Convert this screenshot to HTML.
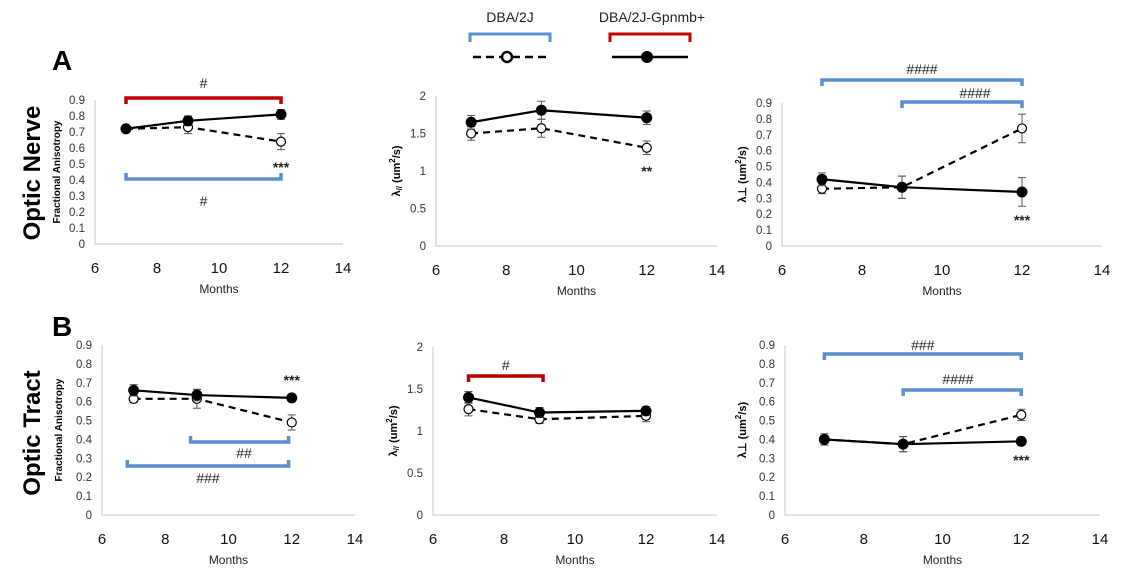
<!DOCTYPE html>
<html><head><meta charset="utf-8">
<style>
body{margin:0;background:#fff;}
svg{display:block;font-family:"Liberation Sans",sans-serif;}
.tk{font-size:11.5px;fill:#333;}
.xt{font-size:15px;fill:#111;}
.ax{stroke:#d9d9d9;stroke-width:1.5;fill:none;}
</style></head>
<body>
<svg id="fig" width="1125" height="579" viewBox="0 0 1125 579">
  <text x="52" y="70" font-size="28" font-weight="bold">A</text>
  <text x="52" y="336" font-size="28" font-weight="bold">B</text>
  <text transform="translate(40,173) rotate(-90)" text-anchor="middle" font-size="24" font-weight="bold">Optic Nerve</text>
  <text transform="translate(40,433) rotate(-90)" text-anchor="middle" font-size="24" font-weight="bold">Optic Tract</text>
  <g>
    <text x="510" y="22" text-anchor="middle" font-size="14" fill="#222">DBA/2J</text>
    <path d="M470,42 V34 H550 V42" stroke="#5b8fce" stroke-width="3" fill="none"/>
    <line x1="473" y1="57" x2="547" y2="57" stroke="#000" stroke-width="2.5" stroke-dasharray="8,5"/>
    <circle cx="507" cy="57" r="5" fill="#fff" stroke="#000" stroke-width="2.5"/>
    <text x="652" y="22" text-anchor="middle" font-size="14" fill="#222">DBA/2J-Gpnmb+</text>
    <path d="M610,42 V34 H690 V42" stroke="#c00000" stroke-width="3" fill="none"/>
    <line x1="612" y1="57" x2="688" y2="57" stroke="#000" stroke-width="2.5"/>
    <circle cx="647" cy="57" r="6" fill="#000"/>
  </g>
</svg>
<script>
const months = [7, 9, 12];
const xTicks = [6, 8, 10, 12, 14];
const faTicks = [0,0.1,0.2,0.3,0.4,0.5,0.6,0.7,0.8,0.9];
const lpTicks = [0,0.5,1,1.5,2];
// A: optic nerve
const a1Solid = [0.72, 0.77, 0.81], a1SolidErr = [0.02, 0.03, 0.03];
const a1Dash = [0.72, 0.73, 0.64], a1DashErr = [0.02, 0.04, 0.05];
const a2Solid = [1.65, 1.81, 1.71], a2SolidErr = [0.09, 0.12, 0.09];
const a2Dash = [1.50, 1.57, 1.31], a2DashErr = [0.09, 0.12, 0.09];
const a3Solid = [0.42, 0.37, 0.34], a3SolidErr = [0.04, 0.07, 0.09];
const a3Dash = [0.36, 0.37, 0.74], a3DashErr = [0.03, 0.07, 0.09];
// B: optic tract
const b1Solid = [0.66, 0.635, 0.62], b1SolidErr = [0.03, 0.03, 0.015];
const b1Dash = [0.615, 0.615, 0.49], b1DashErr = [0.02, 0.05, 0.04];
const b2Solid = [1.40, 1.22, 1.24], b2SolidErr = [0.07, 0.06, 0.05];
const b2Dash = [1.26, 1.14, 1.18], b2DashErr = [0.08, 0.05, 0.07];
const b3Solid = [0.40, 0.375, 0.39], b3SolidErr = [0.03, 0.04, 0.02];
const b3Dash = [0.40, 0.375, 0.53], b3DashErr = [0.02, 0.04, 0.03];

const NS = "http://www.w3.org/2000/svg";
const svg = document.getElementById("fig");
function mk(tag, attrs, parent, text){
  const e = document.createElementNS(NS, tag);
  for (const k in attrs) e.setAttribute(k, attrs[k]);
  if (text !== undefined) e.textContent = text;
  (parent||svg).appendChild(e);
  return e;
}
function panel(id, g, solid, sErr, dash, dErr, ticks, ylab, yfmt){
  const grp = mk("g", {}, svg);
  
  
  const X = v => g.x0 + (v - 6) / 8 * (g.x1 - g.x0);
  const Y = v => g.y0 - v / g.ymax * (g.y0 - g.yt);
  const ax = mk("path", {d:`M${g.x0},${g.yt} V${g.y0} H${g.x1}`, class:"ax"}, grp);
  
  
  ticks.forEach(t => {
    const e = mk("text", {x:g.x0-10, y:Y(t)+4, "text-anchor":"end", class:"tk"}, grp, yfmt(t));
    
    
  });
  xTicks.forEach(t => {
    const e = mk("text", {x:X(t), y:g.y0+29, "text-anchor":"middle", class:"xt"}, grp, String(t));
    
    
  });
  const xl = mk("text", {x:(g.x0+g.x1)/2, y:g.y0+49, "text-anchor":"middle", "font-size":"12", fill:"#222"}, grp, "Months");
  
  
  const yl = mk("text", {transform:`translate(${g.ylx},${(g.y0+g.yt)/2}) rotate(-90)`, "text-anchor":"middle", "font-size":ylab.fs, "font-weight":"bold"}, grp);
  yl.innerHTML = ylab.html;
  
  
  [[dash, dErr, true], [solid, sErr, false]].forEach(([vals, errs, dashed]) => {
    const pts = vals.map((v,i) => `${X(months[i])},${Y(v)}`).join(" ");
    const ln = mk("polyline", {points:pts, fill:"none", stroke:"#000", "stroke-width":"2.2", "stroke-dasharray": dashed ? "7,5" : "none"}, grp);
    
    
    vals.forEach((v,i) => {
      const x = X(months[i]), yh = Y(v+errs[i]), yl2 = Y(v-errs[i]);
      const eb = mk("path", {d:`M${x},${yh} V${yl2} M${x-4},${yh} H${x+4} M${x-4},${yl2} H${x+4}`, stroke:"#555", "stroke-width":"1", fill:"none"}, grp);
      
      
      const c = mk("circle", {cx:x, cy:Y(v), r: dashed ? 4.5 : 5.5, fill: dashed ? "#fff" : "#000", stroke:"#000", "stroke-width": dashed ? 1.2 : 0}, grp);
      
      
    });
  });
  return {X, Y, grp};
}
function bracket(p, id, m1, m2, y, dir, color, label, ly, lx){
  const x1 = p.X(m1), x2 = p.X(m2);
  const b = mk("path", {d:`M${x1},${y+dir*6} V${y} H${x2} V${y+dir*6}`, stroke:color, "stroke-width":"3.5", fill:"none"}, p.grp);
  
  
  const t = mk("text", {x: lx !== undefined ? lx : (x1+x2)/2, y:ly, "text-anchor":"middle", "font-size":"14", fill:"#222"}, p.grp, label);
  
  
}
function stars(p, id, m, y, s){
  const t = mk("text", {x:p.X(m), y:y, "text-anchor":"middle", "font-size":"14", "font-weight":"bold", fill:"#222"}, p.grp, s);
  
  
}
const fa = t => t===0 ? "0" : t.toFixed(1);
const lp = t => String(t);
const faLab = {fs:"10", html:"Fractional Anisotropy"};
const parLab = {fs:"11", html:'λ<tspan font-size="8" dy="2">//</tspan><tspan dy="-2">   (um</tspan><tspan font-size="8" dy="-5">2</tspan><tspan dy="5">/s)</tspan>'};
const perpLab = {fs:"11", html:'λ⊥   (um<tspan font-size="8" dy="-5">2</tspan><tspan dy="5">/s)</tspan>'};

const pA1 = panel("fa-nerve", {x0:95,x1:343,y0:244,yt:100,ymax:0.9,ylx:60}, a1Solid,a1SolidErr,a1Dash,a1DashErr, faTicks, faLab, fa);
bracket(pA1, "fa-nerve-gpnmb", 7, 12, 98, 1, "#c00000", "#", 88);
bracket(pA1, "fa-nerve-dba2j", 7, 12, 179, -1, "#5b8fce", "#", 206);
stars(pA1, "fa-nerve", 12, 172, "***");

const pA2 = panel("lpar-nerve", {x0:436,x1:717,y0:246,yt:96,ymax:2,ylx:400}, a2Solid,a2SolidErr,a2Dash,a2DashErr, lpTicks, parLab, lp);
stars(pA2, "lpar-nerve", 12, 176, "**");

const pA3 = panel("lperp-nerve", {x0:782,x1:1102,y0:246,yt:103,ymax:0.9,ylx:746}, a3Solid,a3SolidErr,a3Dash,a3DashErr, faTicks, perpLab, fa);
bracket(pA3, "lperp-nerve-7-12", 7, 12, 80, 1, "#5b8fce", "####", 74);
bracket(pA3, "lperp-nerve-9-12", 9, 12, 102, 1, "#5b8fce", "####", 98, 975);
stars(pA3, "lperp-nerve", 12, 225, "***");

const pB1 = panel("fa-tract", {x0:102,x1:355,y0:515,yt:345,ymax:0.9,ylx:62}, b1Solid,b1SolidErr,b1Dash,b1DashErr, faTicks, faLab, fa);
bracket(pB1, "fa-tract-9-12", 8.8, 11.9, 442, -1, "#5b8fce", "##", 458, 244);
bracket(pB1, "fa-tract-7-12", 6.8, 11.9, 466, -1, "#5b8fce", "###", 483, 208);
stars(pB1, "fa-tract", 12, 385, "***");

const pB2 = panel("lpar-tract", {x0:433,x1:717,y0:515,yt:347,ymax:2,ylx:397}, b2Solid,b2SolidErr,b2Dash,b2DashErr, lpTicks, parLab, lp);
bracket(pB2, "lpar-tract-gpnmb", 7, 9.1, 376, 1, "#c00000", "#", 370);

const pB3 = panel("lperp-tract", {x0:785,x1:1100,y0:515,yt:345,ymax:0.9,ylx:746}, b3Solid,b3SolidErr,b3Dash,b3DashErr, faTicks, perpLab, fa);
bracket(pB3, "lperp-tract-7-12", 7, 12, 354, 1, "#5b8fce", "###", 350);
bracket(pB3, "lperp-tract-9-12", 9, 12, 390, 1, "#5b8fce", "####", 384, 958);
stars(pB3, "lperp-tract", 12, 465, "***");
</script>
</body></html>
